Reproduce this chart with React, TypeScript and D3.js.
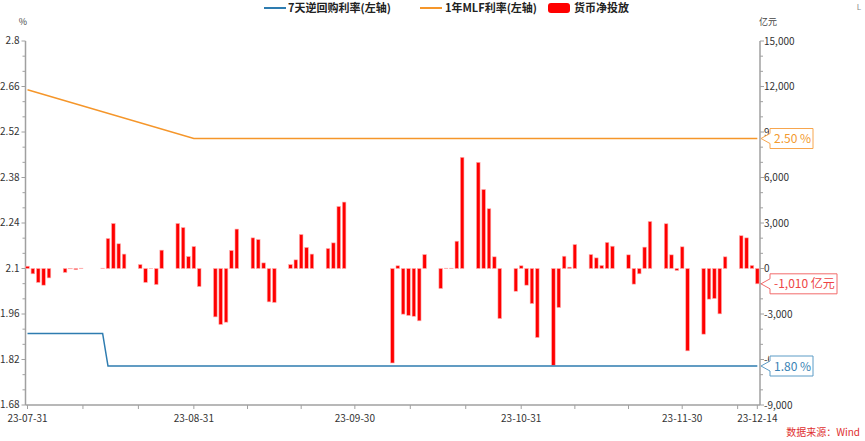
import React from 'react';
import * as d3 from 'd3';

// ---------- data ----------
const barDates = [
  '2023-07-31','2023-08-01','2023-08-02','2023-08-03','2023-08-04',
  '2023-08-07','2023-08-08','2023-08-09','2023-08-10',
  '2023-08-14','2023-08-15','2023-08-16','2023-08-17','2023-08-18',
  '2023-08-21','2023-08-22','2023-08-23','2023-08-24','2023-08-25',
  '2023-08-28','2023-08-29','2023-08-30','2023-08-31','2023-09-01',
  '2023-09-04','2023-09-05','2023-09-06','2023-09-07','2023-09-08',
  '2023-09-11','2023-09-12','2023-09-13','2023-09-14','2023-09-15',
  '2023-09-18','2023-09-19','2023-09-20','2023-09-21','2023-09-22',
  '2023-09-25','2023-09-26','2023-09-27','2023-09-28',
  '2023-10-07','2023-10-08','2023-10-09','2023-10-10','2023-10-11','2023-10-12','2023-10-13',
  '2023-10-16','2023-10-17','2023-10-18','2023-10-19','2023-10-20',
  '2023-10-23','2023-10-24','2023-10-25','2023-10-26','2023-10-27',
  '2023-10-30','2023-10-31','2023-11-01','2023-11-02','2023-11-03',
  '2023-11-06','2023-11-07','2023-11-08','2023-11-09','2023-11-10',
  '2023-11-13','2023-11-14','2023-11-15','2023-11-16','2023-11-17',
  '2023-11-20','2023-11-21','2023-11-22','2023-11-23','2023-11-24',
  '2023-11-27','2023-11-28','2023-11-29','2023-11-30','2023-12-01',
  '2023-12-04','2023-12-05','2023-12-06','2023-12-07','2023-12-08',
  '2023-12-11','2023-12-12','2023-12-13','2023-12-14',
];
const barValues = [
  150, -350, -920, -1100, -620,
  -260, -20, -80, 20,
  20, 1980, 2970, 1630, 950,
  260, -920, 10, -1060, 1210,
  2970, 2700, 790, 1450, -1190,
  -3190, -3690, -3540, 1190, 2600,
  2020, 1910, 370, -2200, -2240,
  260, 570, 2240, 1390, 950,
  1320, 1690, 4090, 4380,
  -6230, 180, -3010, -3100, -3150, -3450, 920,
  -1320, 20, 20, 1800, 7330,
  7000, 5210, 3940, 770, -3300,
  -1500, 180, -1100, -2310, -4550,
  -6380, -2570, 810, 90, 1580,
  920, 700, 200, 1720, 1470,
  900, -1030, -350, 1410, 3100,
  2950, 900, -130, 1430, -5430,
  -4330, -2020, -1980, -2990, 770,
  2160, 2020, 200, -1010,
];

const repoDates = ['2023-07-31', '2023-08-14', '2023-08-15', '2023-12-14'];
const repoValues = [1.9, 1.9, 1.8, 1.8];

const mlfDates = ['2023-07-31', '2023-08-31', '2023-12-14'];
const mlfValues = [2.65, 2.5, 2.5];

const leftTicks = [1.68, 1.82, 1.96, 2.1, 2.24, 2.38, 2.52, 2.66, 2.8];
const leftTickLabels = ['1.68', '1.82', '1.96', '2.1', '2.24', '2.38', '2.52', '2.66', '2.8'];
const rightTicks = [-9000, -6000, -3000, 0, 3000, 6000, 9000, 12000, 15000];
const rightTickLabels = ['-9,000', '-6,000', '-3,000', '0', '3,000', '6,000', '9,000', '12,000', '15,000'];
const xTickDates = ['2023-07-31', '2023-08-31', '2023-09-30', '2023-10-31', '2023-11-30', '2023-12-14'];
const xTickLabels = ['23-07-31', '23-08-31', '23-09-30', '23-10-31', '23-11-30', '23-12-14'];
const monthEnds = ['2023-07-31', '2023-08-31', '2023-09-30', '2023-10-31', '2023-11-30', '2023-12-31'];

const legendLabels = ['7天逆回购利率(左轴)', '1年MLF利率(左轴)', '货币净投放'];

// ---------- style ----------
const W = 865, H = 441;
const FONT = '"Noto Sans CJK SC", "Noto Sans", sans-serif';
const BLUE = '#2E7CB0';
const ORANGE = '#F5962A';
const RED = '#FF0000';
const AXIS = '#A0A0A0';

const parse = d3.timeParse('%Y-%m-%d');

export default function App() {
  const x0 = 25.5, x1 = 760, yTop = 41, yBot = 405;
  const start = parse('2023-07-31')!;
  const end = parse('2023-12-14')!;
  const x = d3.scaleTime()
    .domain([start, d3.timeHour.offset(end, 12)])
    .range([27.5, x1]);
  const yL = d3.scaleLinear().domain([1.68, 2.8]).range([yBot, yTop]);
  const yR = d3.scaleLinear().domain([-9000, 15000]).range([yBot, yTop]);

  const bars = barDates.map((d, i) => ({ date: parse(d)!, v: barValues[i] }));
  const repo = repoDates.map((d, i) => ({ date: parse(d)!, v: repoValues[i] }));
  const mlf = mlfDates.map((d, i) => ({ date: parse(d)!, v: mlfValues[i] }));

  const line = d3.line<{ date: Date; v: number }>()
    .x(d => x(d.date))
    .y(d => yL(d.v));

  // minor x ticks: month intervals split in thirds
  const minorX: number[] = [];
  for (let i = 0; i < monthEnds.length - 1; i++) {
    const a = parse(monthEnds[i])!.getTime();
    const b = parse(monthEnds[i + 1])!.getTime();
    for (let k = 1; k <= 2; k++) {
      const t = a + ((b - a) * k) / 3;
      if (t < end.getTime()) minorX.push(x(new Date(t)));
    }
  }

  const minorY: number[] = [];
  for (let i = 0; i < leftTicks.length - 1; i++) {
    const a = yL(leftTicks[i]), b = yL(leftTicks[i + 1]);
    minorY.push(a + (b - a) / 3, a + (2 * (b - a)) / 3);
  }

  const bw = 3.6;
  const fmt2 = d3.format('.2f');
  const fmtC = (v: number) => d3.format(',')(v).replace('\u2212', '-');

  const callout = (yy: number, w: number, stroke: string, color: string, text: string) => {
    const tip = 761, bx = 770, hh = 10, nh = 5;
    const p = `M${tip},${yy} L${bx},${yy - nh} L${bx},${yy - hh} L${bx + w},${yy - hh} L${bx + w},${yy + hh} L${bx},${yy + hh} L${bx},${yy + nh} Z`;
    return (
      <g>
        <path d={p} fill="#fff" stroke={stroke} strokeWidth={1} />
        <text x={bx + 4} y={yy + 4.5} fontSize={12} fill={color}>{text}</text>
      </g>
    );
  };

  const lastMlf = mlf[mlf.length - 1];
  const lastRepo = repo[repo.length - 1];
  const lastBar = bars[bars.length - 1];

  // labels hidden under the end callouts in the reference are clipped to their visible part
  const hiddenRight = new Set([9000, -6000]);

  const legendItems = [
    { kind: 'line', color: BLUE, lx: 264, tx: 288, label: legendLabels[0] },
    { kind: 'line', color: ORANGE, lx: 420, tx: 445, label: legendLabels[1] },
    { kind: 'rect', color: RED, lx: 548, tx: 574, label: legendLabels[2] },
  ];

  return (
    <svg width={W} height={H} style={{ position: 'absolute', left: 0, top: 0, background: '#fff' }} fontFamily={FONT}>
      <defs>
        <clipPath id="rclip">
          <rect x={x1 + 3} y={0} width={6} height={H} />
        </clipPath>
      </defs>
      {/* legend */}
      {legendItems.map((it, i) => (
        <g key={i}>
          {it.kind === 'line'
            ? <line x1={it.lx} x2={it.lx + 22} y1={8} y2={8} stroke={it.color} strokeWidth={2} />
            : <rect x={it.lx} y={3} width={22} height={10} rx={3} fill={it.color} />}
          <text x={it.tx} y={12} fontSize={11} fontWeight="bold" fill="#222">{it.label}</text>
        </g>
      ))}
      <text x={861} y={10} fontSize={8} fill="#888" textAnchor="end">L</text>

      {/* unit labels */}
      <text x={23} y={25} fontSize={9} fill="#444" textAnchor="middle">%</text>
      <text x={768} y={25} fontSize={9} fill="#444" textAnchor="middle">亿元</text>

      {/* left axis */}
      <line x1={x0} x2={x0} y1={yTop} y2={yBot} stroke={AXIS} strokeWidth={1.5} />
      {leftTicks.map((t, i) => (
        <g key={'l' + i}>
          <line x1={x0 - 4} x2={x0} y1={yL(t)} y2={yL(t)} stroke={AXIS} strokeWidth={1} />
          <text x={x0 - 6} y={yL(t) + 3} fontSize={10} fill="#333" textAnchor="end">{leftTickLabels[i]}</text>
        </g>
      ))}
      {minorY.map((yy, i) => (
        <line key={'lm' + i} x1={x0 - 3} x2={x0} y1={yy} y2={yy} stroke={AXIS} strokeWidth={1} />
      ))}

      {/* right axis */}
      <line x1={x1} x2={x1} y1={yTop} y2={yBot} stroke={AXIS} strokeWidth={1.5} />
      {rightTicks.map((t, i) => (
        <g key={'r' + i}>
          <line x1={x1} x2={x1 + 4} y1={yR(t)} y2={yR(t)} stroke={AXIS} strokeWidth={1} />
          <text x={x1 + 4} y={yR(t) + 3.5} fontSize={10} fill="#333"
            clipPath={hiddenRight.has(t) ? 'url(#rclip)' : undefined}>{rightTickLabels[i]}</text>
        </g>
      ))}
      {minorY.map((yy, i) => (
        <line key={'rm' + i} x1={x1} x2={x1 + 3} y1={yy} y2={yy} stroke={AXIS} strokeWidth={1} />
      ))}

      {/* bottom axis */}
      <line x1={x0} x2={x1} y1={yBot} y2={yBot} stroke={AXIS} strokeWidth={1.5} />
      {xTickDates.map((d, i) => {
        const xx = x(parse(d)!);
        return (
          <g key={'x' + i}>
            <line x1={xx} x2={xx} y1={yBot} y2={yBot + 4} stroke={AXIS} strokeWidth={1} />
            <text x={xx} y={yBot + 16.5} fontSize={10} fill="#333" textAnchor="middle">{xTickLabels[i]}</text>
          </g>
        );
      })}
      {minorX.map((xx, i) => (
        <line key={'xm' + i} x1={xx} x2={xx} y1={yBot} y2={yBot + 4} stroke={AXIS} strokeWidth={1} />
      ))}

      {/* bars */}
      {bars.map((b, i) => (
        <rect key={'b' + i}
          x={x(b.date) - bw / 2}
          y={yR(Math.max(b.v, 0))}
          width={bw}
          height={Math.abs(yR(b.v) - yR(0))}
          fill={RED} stroke="#ffb0b0" strokeWidth={0.6} />
      ))}

      {/* lines */}
      <path d={line(mlf)!} fill="none" stroke={ORANGE} strokeWidth={1.5} />
      <path d={line(repo)!} fill="none" stroke={BLUE} strokeWidth={1.5} />

      {/* end callouts */}
      {callout(yL(lastMlf.v), 43, '#F7A64E', '#F39A2E', `${fmt2(lastMlf.v)} %`)}
      {callout(yR(lastBar.v), 67, '#F26B6B', '#EE4444', `${fmtC(lastBar.v)} 亿元`)}
      {callout(yL(lastRepo.v), 43, '#5C9CC6', '#3A82B4', `${fmt2(lastRepo.v)} %`)}

      {/* source */}
      <text x={860} y={436} fontSize={10} fill="#E03030" textAnchor="end">数据来源：Wind</text>
    </svg>
  );
}
